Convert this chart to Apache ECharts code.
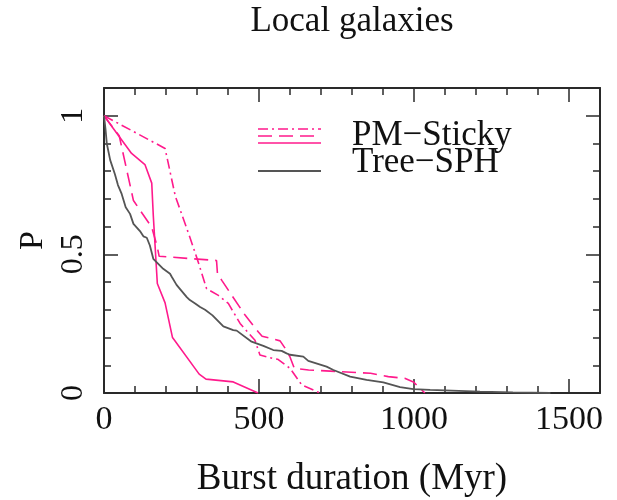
<!DOCTYPE html>
<html>
<head>
<meta charset="utf-8">
<script src="https://cdn.jsdelivr.net/npm/echarts@6/dist/echarts.min.js"></script>
<style>html,body{margin:0;padding:0;background:#fff}#c{width:617px;height:500px}</style>
</head>
<body>
<div id="c"></div>
<script>
const titleText = 'Local galaxies';
const xName = 'Burst duration (Myr)';
const yName = 'P';
const xTickLabels = ['0', '500', '1000', '1500'];
const yTickLabels = ['0', '0.5', '1'];
const legendNames = ['PM\u2212Sticky', 'Tree\u2212SPH'];

// PM-Sticky, dash-dot curve
const pmDashDot = [[0,1],[197,0.882],[230,0.71],[277,0.562],[304,0.472],[331,0.376],[369,0.352],[401,0.323],[439,0.251],[487,0.19],[503,0.137],[546,0.124],[560,0.122],[600,0.089],[638,0.029],[697,0]];
// PM-Sticky, dashed curve
const pmDashed = [[0,1],[49,0.928],[95,0.694],[154,0.598],[172,0.526],[178,0.493],[363,0.478],[366,0.43],[380,0.406],[455,0.281],[498,0.22],[510,0.205],[568,0.188],[584,0.162],[600,0.13],[614,0.089],[660,0.083],[760,0.077],[860,0.071],[917,0.059],[970,0.053],[998,0.04],[1035,0]];
// PM-Sticky, solid curve
const pmSolid = [[0,1],[89,0.864],[132,0.824],[154,0.757],[159,0.64],[172,0.395],[197,0.325],[221,0.2],[307,0.068],[329,0.05],[417,0.04],[497,0]];
// Tree-SPH curve
const treeSph = [[0,1],[5,0.95],[9,0.9],[20,0.84],[35,0.79],[45,0.75],[57,0.718],[70,0.67],[84,0.646],[95,0.61],[116,0.584],[127,0.565],[138,0.56],[148,0.532],[154,0.525],[159,0.484],[175,0.466],[191,0.448],[213,0.43],[218,0.42],[234,0.39],[240,0.382],[267,0.346],[277,0.335],[294,0.323],[310,0.31],[326,0.3],[350,0.28],[385,0.24],[417,0.227],[428,0.225],[476,0.185],[482,0.179],[514,0.17],[546,0.155],[573,0.152],[589,0.143],[600,0.138],[643,0.131],[659,0.116],[718,0.095],[740,0.083],[794,0.059],[847,0.047],[901,0.038],[955,0.021],[998,0.014],[1052,0.011],[1213,0.005],[1319,0.002],[1440,0]];

const PINK = '#ff1a8c';
const GRAY = '#555555';
const FRAME = '#2a2a2a';
const FONT = 'Liberation Serif';

function fmtFrom(list) {
  return function (v) {
    const s = list.find(t => Math.abs(parseFloat(t) - v) < 1e-9);
    return s === undefined ? '' : s;
  };
}

function xAx(pos, interval, len, major) {
  return {
    type: 'value', position: pos, min: 0, max: 1600, interval: interval,
    axisLine: { show: major, onZero: false, lineStyle: { color: FRAME, width: 2 } },
    axisTick: { show: true, inside: true, length: len, lineStyle: { color: FRAME, width: 1.5 } },
    axisLabel: { show: major && pos === 'bottom', formatter: fmtFrom(xTickLabels), margin: 10,
      fontFamily: FONT, fontSize: 34, color: '#111' },
    splitLine: { show: false },
    name: major ? (pos === 'bottom' ? xName : titleText) : '',
    nameLocation: 'middle',
    nameGap: pos === 'bottom' ? 68 : 49,
    nameTextStyle: { fontFamily: FONT, fontSize: pos === 'bottom' ? 37 : 35, color: '#111' }
  };
}
function yAx(pos, interval, len, major) {
  return {
    type: 'value', position: pos, min: 0, max: 1.1, interval: interval,
    axisLine: { show: major, onZero: false, lineStyle: { color: FRAME, width: 2 } },
    axisTick: { show: true, inside: true, length: len, lineStyle: { color: FRAME, width: 1.5 } },
    axisLabel: { show: major && pos === 'left', formatter: fmtFrom(yTickLabels), rotate: 90, margin: 14,
      fontFamily: FONT, fontSize: 32, color: '#111' },
    splitLine: { show: false },
    name: major && pos === 'left' ? yName : '',
    nameLocation: 'middle', nameRotate: 90, nameGap: 54,
    nameTextStyle: { fontFamily: FONT, fontSize: 34, color: '#111' }
  };
}

const chart = echarts.init(document.getElementById('c'), null, { renderer: 'canvas' });
const lx0 = 258, lx1 = 321;
chart.setOption({
  animation: false,
  backgroundColor: '#fff',
  grid: { left: 104, right: 17, top: 88, bottom: 107, containLabel: false, outerBoundsMode: 'none' },
  xAxis: [xAx('bottom', 500, 14, true), xAx('bottom', 100, 7, false), xAx('top', 500, 14, true), xAx('top', 100, 7, false)],
  yAxis: [yAx('left', 0.5, 14, true), yAx('left', 0.1, 7, false), yAx('right', 0.5, 14, true), yAx('right', 0.1, 7, false)],
  series: [
    { type: 'line', name: 'PM-Sticky dash-dot', data: pmDashDot, showSymbol: false, symbol: 'none',
      lineStyle: { color: PINK, width: 1.6, type: [10, 4, 2, 4] } },
    { type: 'line', name: 'PM-Sticky dashed', data: pmDashed, showSymbol: false, symbol: 'none',
      lineStyle: { color: PINK, width: 1.6, type: [14, 7] } },
    { type: 'line', name: 'PM-Sticky solid', data: pmSolid, showSymbol: false, symbol: 'none',
      lineStyle: { color: PINK, width: 1.6 } },
    { type: 'line', name: 'Tree-SPH', data: treeSph, showSymbol: false, symbol: 'none',
      lineStyle: { color: GRAY, width: 1.8 } }
  ],
  graphic: [
    { type: 'line', shape: { x1: lx0, y1: 129, x2: lx1, y2: 129 }, style: { stroke: PINK, lineWidth: 1.6, lineDash: [10, 4, 2, 4] } },
    { type: 'line', shape: { x1: lx0, y1: 136, x2: lx1, y2: 136 }, style: { stroke: PINK, lineWidth: 1.6, lineDash: [14, 7] } },
    { type: 'line', shape: { x1: lx0, y1: 143, x2: lx1, y2: 143 }, style: { stroke: PINK, lineWidth: 1.6 } },
    { type: 'line', shape: { x1: lx0, y1: 171, x2: lx1, y2: 171 }, style: { stroke: GRAY, lineWidth: 1.8 } },
    { type: 'text', x: 352, y: 136, style: { text: legendNames[0], fontFamily: FONT, fontSize: 35, fill: '#111', textVerticalAlign: 'middle', verticalAlign: 'middle' } },
    { type: 'text', x: 352, y: 163, style: { text: legendNames[1], fontFamily: FONT, fontSize: 35, fill: '#111', textVerticalAlign: 'middle', verticalAlign: 'middle' } }
  ]
});
</script>
</body>
</html>
